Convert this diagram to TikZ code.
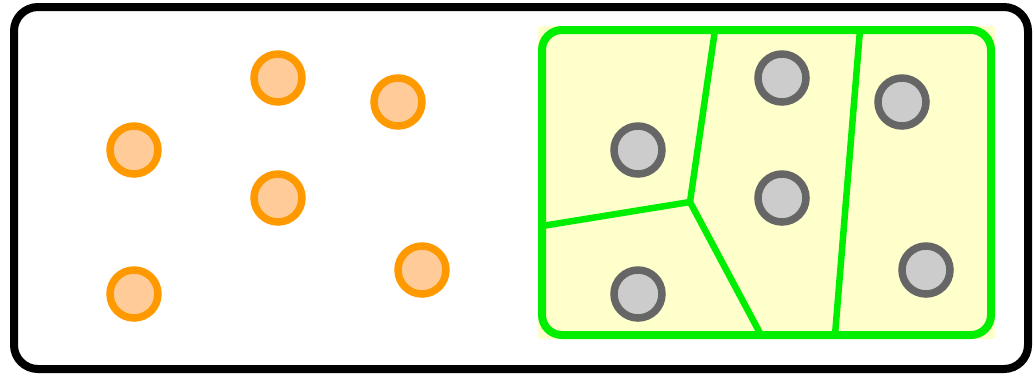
\documentclass[tikz,border=0pt]{standalone}
\begin{document}
\begin{tikzpicture}[x=1pt,y=-1pt,
  ocirc/.style={circle,line width=7.5pt,minimum size=48pt,inner sep=0pt},
  gcirc/.style={circle,line width=7.5pt,minimum size=48pt,inner sep=0pt},
  bline/.style={line width=6.5pt}]
\useasboundingbox (0,0) rectangle (1034,376);
\definecolor{orng}{HTML}{FF9900}
\definecolor{lorng}{HTML}{FFCC99}
\definecolor{grn}{HTML}{00EE00}
\definecolor{lyel}{HTML}{FFFFCC}
\tikzset{ocirc/.append style={draw=orng,fill=lorng},
  gcirc/.append style={draw=black!60,fill=black!20},
  bline/.append style={draw=grn}}
\draw[line width=8pt,rounded corners=24pt] (14,7) rectangle (1028,369);
\fill[lyel,rounded corners=3pt] (538,26) rectangle (995,339);
\coordinate (t1) at (715,30);
\coordinate (t2) at (860,30);
\coordinate (c) at (690,202);
\coordinate (l) at (542,226);
\coordinate (b1) at (761,335);
\coordinate (b2) at (835,335);
\draw[bline,line cap=round] (t1) -- (c) -- (l);
\draw[bline] (c) -- (b1);
\draw[bline] (t2) -- (b2);
\draw[grn,line width=8pt,rounded corners=20pt] (542,30) rectangle (991,335);
\node[ocirc] (o1) at (134,150) {};
\node[ocirc] (o2) at (278,78) {};
\node[ocirc] (o3) at (398,102) {};
\node[ocirc] (o4) at (278,198) {};
\node[ocirc] (o5) at (134,294) {};
\node[ocirc] (o6) at (422,270) {};
\node[gcirc] (g1) at (638,150) {};
\node[gcirc] (g2) at (782,78) {};
\node[gcirc] (g3) at (902,102) {};
\node[gcirc] (g4) at (782,198) {};
\node[gcirc] (g5) at (638,294) {};
\node[gcirc] (g6) at (926,270) {};
\end{tikzpicture}
\end{document}
